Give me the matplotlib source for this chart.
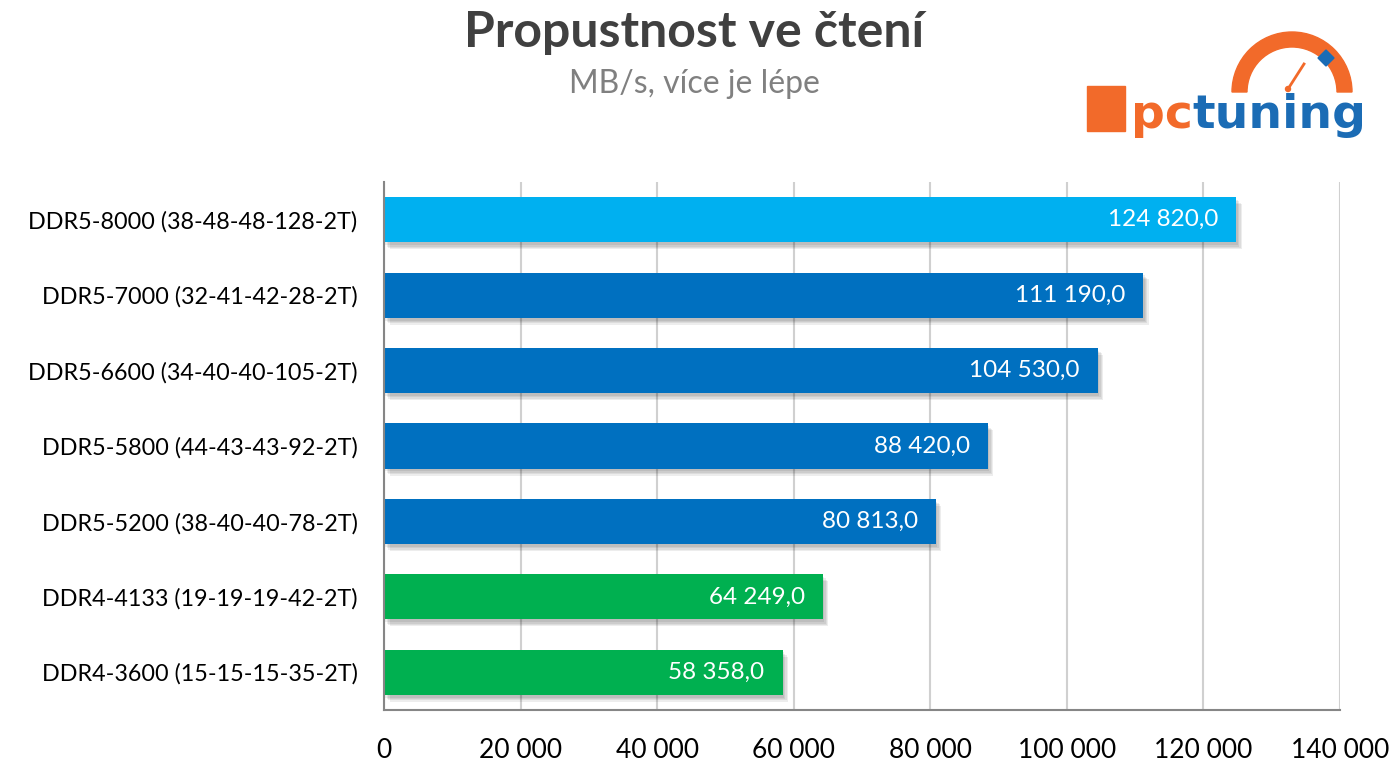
import matplotlib
matplotlib.use("Agg")
import matplotlib.pyplot as plt
import matplotlib.patheffects as pe
from matplotlib.patches import Rectangle, Wedge, Circle, Polygon
from matplotlib.ticker import FuncFormatter

plt.rcParams['font.family'] = ['Lato', 'DejaVu Sans']

# data
labels = [
    "DDR5-8000 (38-48-48-128-2T)",
    "DDR5-7000 (32-41-42-28-2T)",
    "DDR5-6600 (34-40-40-105-2T)",
    "DDR5-5800 (44-43-43-92-2T)",
    "DDR5-5200 (38-40-40-78-2T)",
    "DDR4-4133 (19-19-19-42-2T)",
    "DDR4-3600 (15-15-15-35-2T)",
]
values = [124820.0, 111190.0, 104530.0, 88420.0, 80813.0, 64249.0, 58358.0]
colors = ["#00B0F0", "#0070C0", "#0070C0", "#0070C0", "#0070C0", "#00B050", "#00B050"]
xticks = [0, 20000, 40000, 60000, 80000, 100000, 120000, 140000]


def cz(v, dec=0):
    s = f"{v:,.{dec}f}".replace(",", " ").replace(".", ",")
    return s


fig = plt.figure(figsize=(14, 7.82), dpi=100)
ax = fig.add_axes([384 / 1400, 1 - 710 / 782, 956 / 1400, 528 / 782])

ypos = list(range(len(values)))[::-1]
bars = ax.barh(ypos, values, height=0.6, color=colors, zorder=3)
# soft drop shadow
shadow = [pe.SimplePatchShadow(offset=(o, -o - 1), shadow_rgbFace="#000000", alpha=0.07)
          for o in (4, 3, 2, 1)]
for b in bars:
    b.set_path_effects(shadow + [pe.Normal()])

for y, v in zip(ypos, values):
    ax.annotate(cz(v, 1), xy=(v, y), xytext=(-13, 0), textcoords="offset points",
                ha="right", va="center", color="white", fontsize=17.5, zorder=4)

ax.set_xlim(0, 140000)
ax.set_ylim(-0.5, len(values) - 0.5)
ax.set_xticks(xticks)
ax.xaxis.set_major_formatter(FuncFormatter(lambda v, p: cz(v)))
ax.set_yticks(ypos)
ax.set_yticklabels(labels)
ax.tick_params(axis="x", length=0, pad=20, labelsize=19, colors="#000000")
ax.tick_params(axis="y", length=0, pad=19, labelsize=16.8, colors="#000000")
ax.grid(axis="x", color="#D0D0D0", linewidth=1.5, zorder=0)
ax.set_axisbelow(True)
for s in ["top", "right"]:
    ax.spines[s].set_visible(False)
for s in ["left", "bottom"]:
    ax.spines[s].set_color("#868686")
    ax.spines[s].set_linewidth(1.5)
ax.spines["left"].set_zorder(5)

fig.text(0.496, 0.958, "Propustnost ve čtení", ha="center", va="center",
         fontsize=36, fontweight="bold", color="#404040")
fig.text(0.496, 0.893, "MB/s, více je lépe", ha="center", va="center",
         fontsize=23, color="#808080")

# logo
lg = fig.add_axes([1080 / 1400, 1 - 135 / 782, 280 / 1400, 120 / 782])
lg.set_xlim(1080, 1360)
lg.set_ylim(135, 15)
lg.axis("off")
orange = "#F26A2A"
blue = "#1B6CB5"
lg.add_patch(Rectangle((1087, 86), 38, 45, color=orange))
lg.add_patch(Wedge((1292, 92), 60, 180, 360, width=15, color=orange))
lg.add_patch(Polygon([(1318, 58), (1326, 50), (1334, 58), (1326, 66)], color=blue))
lg.plot([1288, 1304], [89, 64], color=orange, lw=2)
lg.add_patch(Circle((1288, 89), 2.5, color=orange))
lg.text(1131, 128, "pc", color=orange, fontsize=34, ha="left", va="baseline",
        family="DejaVu Sans", fontweight="semibold")
lg.text(1192, 128, "tuning", color=blue, fontsize=34, ha="left", va="baseline",
        family="DejaVu Sans", fontweight="semibold")

fig.savefig("out.png", dpi=100)
